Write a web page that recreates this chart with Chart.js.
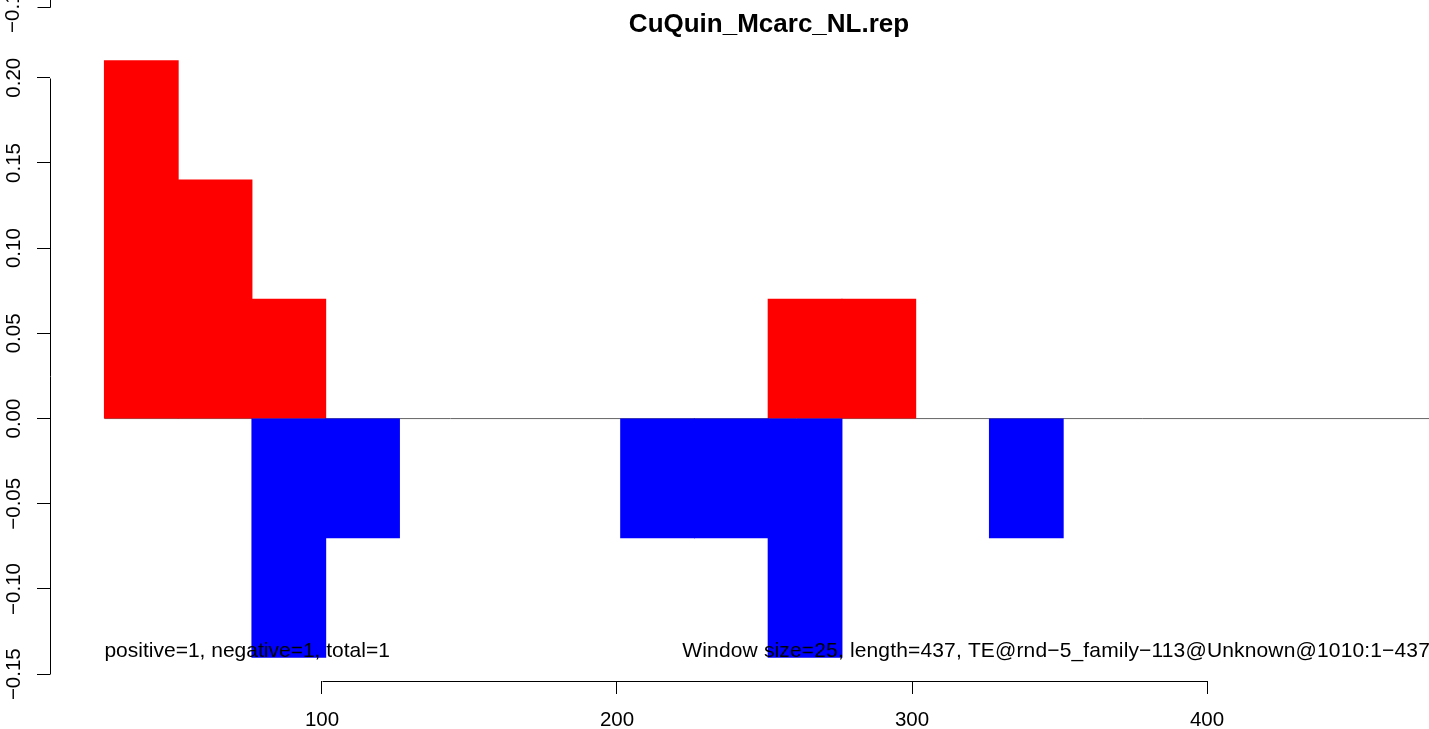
<!DOCTYPE html>
<html>
<head>
<meta charset="utf-8">
<script src="https://cdn.jsdelivr.net/npm/chart.js@4/dist/chart.umd.min.js"></script>
<style>
html,body{margin:0;padding:0;overflow:hidden;background:#fff}
#wrap{width:1429px;height:729px;overflow:hidden;position:relative;background:#fff}
canvas{display:block}
</style>
</head>
<body>
<div id="wrap"><canvas id="c" width="1500" height="729"></canvas></div>
<script>
// ---- data ----
const chartTitle = 'CuQuin_Mcarc_NL.rep';
const windowSize = 25;
const windowCenters = [38.75, 63.75, 88.75, 113.75, 138.75, 163.75, 188.75, 213.75, 238.75, 263.75, 288.75, 313.75, 338.75, 363.75, 388.75, 413.75, 438.75];
const positiveValues = [0.21, 0.14, 0.07, null, null, null, null, null, null, 0.07, 0.07, null, null, null, null, null, null];
const negativeValues = [null, null, -0.14, -0.07, null, null, null, -0.07, -0.07, -0.14, null, null, -0.07, null, null, null, null];
const xTickValues = [100, 200, 300, 400];
const yTickValues = [-0.15, -0.10, -0.05, 0.00, 0.05, 0.10, 0.15, 0.20];
const noteLeft = 'positive=1, negative=1, total=1';
const noteRight = 'Window size=25, length=437, TE@rnd\u22125_family\u2212113@Unknown@1010:1\u2212437';
const strayTickLabel = '\u22120.15';

// ---- styling ----
const FONT = '"Liberation Sans", Arial, Helvetica, sans-serif';
const BASE = 20.5;
const NOTE = 21;
const X_MIN = 7.8, X_MAX = 495.25;
const Y_MIN = -0.154, Y_MAX = 0.2245;
const fmtY = v => v.toFixed(2).replace('-', '\u2212');

const pointsOf = vals => windowCenters.map((x, i) => ({x: x, y: vals[i]}));
const baseStart = windowCenters[0] - windowSize / 2;

const rAxes = {
  id: 'rAxes',
  afterDraw(chart) {
    const ctx = chart.ctx;
    const xs = chart.scales.x, ys = chart.scales.y;
    const ca = chart.chartArea;
    ctx.save();
    ctx.strokeStyle = '#000';
    ctx.lineWidth = 1;
    // x axis segment between first and last tick
    const yb = Math.round(ca.bottom) + 0.5;
    ctx.beginPath();
    ctx.moveTo(Math.round(xs.getPixelForValue(xTickValues[0])) + 0.5, yb);
    ctx.lineTo(Math.round(xs.getPixelForValue(xTickValues[xTickValues.length - 1])) + 0.5, yb);
    ctx.stroke();
    // y axis segment between first and last tick
    const xl = Math.round(ca.left) + 0.5;
    ctx.beginPath();
    ctx.moveTo(xl, Math.round(ys.getPixelForValue(yTickValues[0])) + 0.5);
    ctx.lineTo(xl, Math.round(ys.getPixelForValue(yTickValues[yTickValues.length - 1])) + 0.5);
    ctx.stroke();
    // stray axis piece at the very top (from an adjacent panel)
    ctx.beginPath();
    ctx.moveTo(xl, 0);
    ctx.lineTo(xl, 7.5);
    ctx.moveTo(xl - 13, 7.5);
    ctx.lineTo(xl, 7.5);
    ctx.stroke();
    ctx.fillStyle = '#000';
    ctx.font = BASE + 'px ' + FONT;
    ctx.save();
    ctx.translate(13, 7);
    ctx.rotate(-Math.PI / 2);
    ctx.textAlign = 'center';
    ctx.textBaseline = 'middle';
    ctx.fillText(strayTickLabel, 0, 0);
    ctx.restore();
    // notes
    ctx.font = NOTE + 'px ' + FONT;
    const ny = ys.getPixelForValue(-0.14);
    ctx.textBaseline = 'alphabetic';
    ctx.textAlign = 'left';
    ctx.fillText(noteLeft, xs.getPixelForValue(baseStart), ny);
    ctx.textAlign = 'right';
    if ('letterSpacing' in ctx) ctx.letterSpacing = '0.15px';
    ctx.fillText(noteRight, 1430, ny);
    ctx.restore();
  }
};

new Chart(document.getElementById('c'), {
  type: 'bar',
  data: {
    datasets: [
      {
        type: 'line',
        label: 'zero',
        data: [{x: baseStart, y: 0}, {x: X_MAX + 10, y: 0}],
        borderColor: '#666666',
        borderWidth: 1,
        pointRadius: 0,
        fill: false,
        order: 3
      },
      {
        label: 'positive',
        data: pointsOf(positiveValues),
        backgroundColor: '#FF0000',
        borderWidth: 0,
        grouped: false,
        barPercentage: 1,
        categoryPercentage: 1,
        inflateAmount: 0.5,
        order: 2
      },
      {
        label: 'negative',
        data: pointsOf(negativeValues),
        backgroundColor: '#0000FF',
        borderWidth: 0,
        grouped: false,
        barPercentage: 1,
        categoryPercentage: 1,
        inflateAmount: 0.5,
        order: 1
      }
    ]
  },
  options: {
    responsive: false,
    devicePixelRatio: 1,
    animation: false,
    layout: {padding: {left: 0, right: 12, top: 0, bottom: 0}},
    plugins: {
      legend: {display: false},
      tooltip: {enabled: false},
      title: {
        display: true,
        fullSize: false,
        text: chartTitle,
        color: '#000',
        font: {family: FONT, size: 26, weight: 'bold', lineHeight: 22 / 26},
        padding: {top: 14, bottom: 0}
      }
    },
    scales: {
      x: {
        type: 'linear',
        position: 'bottom',
        min: X_MIN,
        max: X_MAX,
        offset: false,
        afterBuildTicks: s => { s.ticks = xTickValues.map(v => ({value: v})); },
        afterFit: s => { s.height = 48; },
        grid: {display: true, offset: false, drawOnChartArea: false, drawTicks: true, tickLength: 13, color: '#000', lineWidth: 1},
        border: {display: false},
        ticks: {color: '#000', font: {family: FONT, size: BASE}, padding: 14, maxRotation: 0, minRotation: 0, autoSkip: false, callback: v => String(v)}
      },
      y: {
        type: 'linear',
        position: 'left',
        min: Y_MIN,
        max: Y_MAX,
        afterBuildTicks: s => { s.ticks = yTickValues.map(v => ({value: v})); },
        afterFit: s => { s.width = 50; },
        grid: {display: true, drawOnChartArea: false, drawTicks: true, tickLength: 13, color: '#000', lineWidth: 1},
        border: {display: false},
        ticks: {color: '#000', font: {family: FONT, size: BASE}, padding: -3, minRotation: 90, maxRotation: 90, crossAlign: 'center', autoSkip: false, callback: v => fmtY(v)}
      }
    }
  },
  plugins: [rAxes]
});
</script>
</body>
</html>
